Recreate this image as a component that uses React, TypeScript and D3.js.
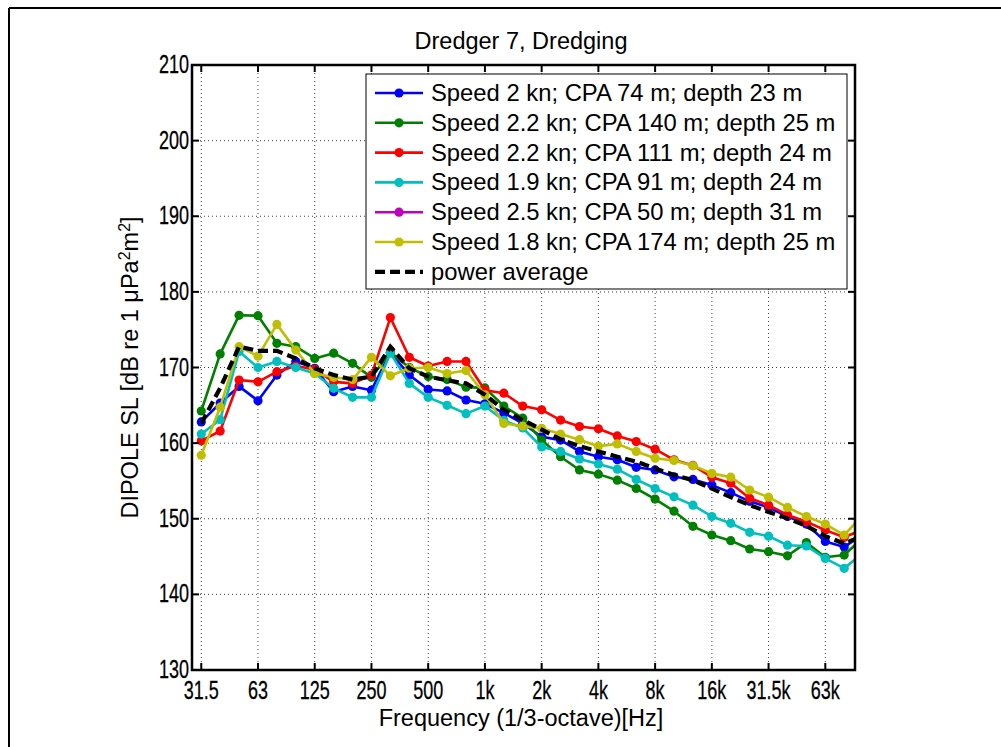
import React from "react";
import * as d3 from "d3";

const bands = ["31.5","40","50","63","80","100","125","160","200","250","315","400","500","630","800","1k","1.25k","1.6k","2k","2.5k","3.15k","4k","5k","6.3k","8k","10k","12.5k","16k","20k","25k","31.5k","40k","50k","63k","80k","100k"];
const tickLabels = ["31.5","63","125","250","500","1k","2k","4k","8k","16k","31.5k","63k"];
const yTicks = [130,140,150,160,170,180,190,200,210];

const blue = [162.8,165.3,167.5,165.6,169.0,170.8,169.9,166.8,167.5,167.0,172.0,169.0,167.1,166.9,165.7,165.2,164.0,162.6,160.85,160.4,158.9,158.2,157.8,156.8,156.45,155.55,155.2,154.45,153.45,152.3,151.5,150.3,149.3,147.0,146.25,148.0];
const green = [164.25,171.8,176.9,176.85,173.2,172.75,171.2,171.9,170.55,168.7,172.0,170.0,168.8,168.4,167.4,167.3,164.9,163.3,160.4,158.2,156.45,155.9,155.1,154.0,152.6,151.0,149.0,147.85,147.1,146.0,145.65,145.1,146.85,144.9,145.2,147.5];
const red = [160.3,161.6,168.35,168.1,169.45,170.2,169.75,168.1,167.9,169.0,176.6,171.35,170.2,170.8,170.8,167.0,166.6,164.9,164.4,163.05,162.2,161.9,160.95,160.2,159.2,157.8,157.05,155.5,154.7,152.7,151.8,150.5,149.6,148.5,147.55,148.6];
const cyan = [161.2,163.1,172.1,170.0,170.8,170.0,169.2,167.25,166.05,166.05,171.9,167.9,166.05,165.0,163.9,164.9,163.0,162.0,159.5,158.9,157.9,157.25,156.55,155.2,154.0,152.9,151.8,150.3,149.4,148.2,147.7,146.5,146.4,144.75,143.45,145.5];
const magenta: number[] = [];
const yellow = [158.4,164.75,172.75,171.5,175.7,172.3,169.2,168.7,168.4,171.35,168.9,169.9,170.0,169.2,169.6,166.4,162.6,162.25,161.95,161.2,160.45,159.6,159.9,158.9,158.0,157.7,157.0,156.0,155.5,153.8,152.85,151.5,150.3,149.3,147.85,150.5];
const average = [162.6,167.3,172.75,172.2,172.2,171.2,169.9,169.0,168.4,168.8,172.75,169.9,168.8,168.3,167.9,166.4,164.4,163.05,161.8,160.5,159.6,158.9,158.2,157.55,156.65,155.8,155.1,154.0,152.85,151.8,150.9,150.05,149.05,147.7,146.7,147.8];

const seriesNames = [
  "Speed 2 kn; CPA 74 m; depth 23 m",
  "Speed 2.2 kn; CPA 140 m; depth 25 m",
  "Speed 2.2 kn; CPA 111 m; depth 24 m",
  "Speed 1.9 kn; CPA 91 m; depth 24 m",
  "Speed 2.5 kn; CPA 50 m; depth 31 m",
  "Speed 1.8 kn; CPA 174 m; depth 25 m",
];
const seriesValues = [blue, green, red, cyan, magenta, yellow];
const seriesColors = ["#0000ff", "#008000", "#ff0000", "#00bfbf", "#bf00bf", "#bfbf00"];
const averageName = "power average";

const W = 1001, H = 747;
const L = 192, R = 855, T = 65, B = 670;
const FONT = "'Liberation Sans', Arial, Helvetica, sans-serif";
const TICK_FS = 25;
const TICK_SX = 0.72;

export default function App() {
  const x = d3.scaleLinear().domain([-0.49, 34.57]).range([L, R]);
  const y = d3.scaleLinear().domain([130, 210]).range([B, T]);
  const line = d3.line<number>().x((_, i) => x(i)).y((v) => y(v));

  const tickIdx = tickLabels.map((t) => bands.indexOf(t));

  const legX = 366, legY = 74, legW = 481, legH = 215;
  const rowY = (k: number) => 93 + k * 29.8;

  return (
    <svg width={W} height={H} style={{ position: "absolute", left: 0, top: 0, background: "#fff" }} fontFamily={FONT}>
      <rect x={0} y={0} width={W} height={H} fill="#fff" />
      <line x1={9} y1={8} x2={W} y2={8} stroke="#000" strokeWidth={2} />
      <line x1={9} y1={8} x2={9} y2={H} stroke="#000" strokeWidth={2} />

      <defs>
        <clipPath id="plotclip">
          <rect x={L} y={T} width={R - L} height={B - T} />
        </clipPath>
      </defs>

      {tickIdx.map((i) => (
        <line key={"gx" + i} x1={x(i)} x2={x(i)} y1={T} y2={B} stroke="#000" strokeWidth={1} strokeDasharray="1,3" opacity={0.75} />
      ))}
      {yTicks.map((v) => (
        <line key={"gy" + v} x1={L} x2={R} y1={y(v)} y2={y(v)} stroke="#000" strokeWidth={1} strokeDasharray="1,3" opacity={0.75} />
      ))}

      <g clipPath="url(#plotclip)">
        {seriesValues.map((vals, s) =>
          vals.length ? (
            <g key={"s" + s}>
              <path d={line(vals) || ""} fill="none" stroke={seriesColors[s]} strokeWidth={2.6} strokeLinejoin="round" />
              {vals.map((v, i) => (
                <circle key={i} cx={x(i)} cy={y(v)} r={4.6} fill={seriesColors[s]} />
              ))}
            </g>
          ) : null
        )}
        <path d={line(average) || ""} fill="none" stroke="#000" strokeWidth={4.2} strokeDasharray="10,5" />
      </g>

      <rect x={L} y={T} width={R - L} height={B - T} fill="none" stroke="#000" strokeWidth={2.5} />
      {tickIdx.map((i) => (
        <g key={"tx" + i}>
          <line x1={x(i)} x2={x(i)} y1={B} y2={B - 7} stroke="#000" strokeWidth={2} />
          <line x1={x(i)} x2={x(i)} y1={T} y2={T + 7} stroke="#000" strokeWidth={2} />
        </g>
      ))}
      {yTicks.map((v) => (
        <g key={"ty" + v}>
          <line x1={L} x2={L + 7} y1={y(v)} y2={y(v)} stroke="#000" strokeWidth={2} />
          <line x1={R} x2={R - 7} y1={y(v)} y2={y(v)} stroke="#000" strokeWidth={2} />
        </g>
      ))}

      {tickIdx.map((i, k) => (
        <text key={"lx" + i} transform={`translate(${x(i)},699) scale(${TICK_SX},1)`} textAnchor="middle" fontSize={TICK_FS} stroke="#000" strokeWidth={0.3}>
          {tickLabels[k]}
        </text>
      ))}
      {yTicks.map((v) => (
        <text key={"ly" + v} transform={`translate(189,${y(v) + 8}) scale(${TICK_SX},1)`} textAnchor="end" fontSize={TICK_FS} stroke="#000" strokeWidth={0.3}>
          {v}
        </text>
      ))}

      <text x={521} y={49} textAnchor="middle" fontSize={23.5}>Dredger 7, Dredging</text>
      <text x={521} y={726} textAnchor="middle" fontSize={23.5}>Frequency (1/3-octave)[Hz]</text>
      <text transform={`translate(138,${(T + B) / 2}) rotate(-90)`} textAnchor="middle" fontSize={23.5}>
        DIPOLE SL [dB re 1 μPa<tspan baselineShift="super" fontSize={16}>2</tspan>m<tspan baselineShift="super" fontSize={16}>2</tspan>]
      </text>

      <rect x={legX} y={legY} width={legW} height={legH} fill="#fff" stroke="#000" strokeWidth={1} />
      {seriesNames.map((name, k) => (
        <g key={"lg" + k}>
          <line x1={375} x2={423} y1={rowY(k)} y2={rowY(k)} stroke={seriesColors[k]} strokeWidth={2.6} />
          <circle cx={399} cy={rowY(k)} r={4.6} fill={seriesColors[k]} />
          <text x={431} y={rowY(k) + 8} fontSize={23.8}>{name}</text>
        </g>
      ))}
      <line x1={375} x2={423} y1={rowY(6)} y2={rowY(6)} stroke="#000" strokeWidth={4.2} strokeDasharray="10,5" />
      <text x={431} y={rowY(6) + 8} fontSize={23.8}>{averageName}</text>
    </svg>
  );
}
